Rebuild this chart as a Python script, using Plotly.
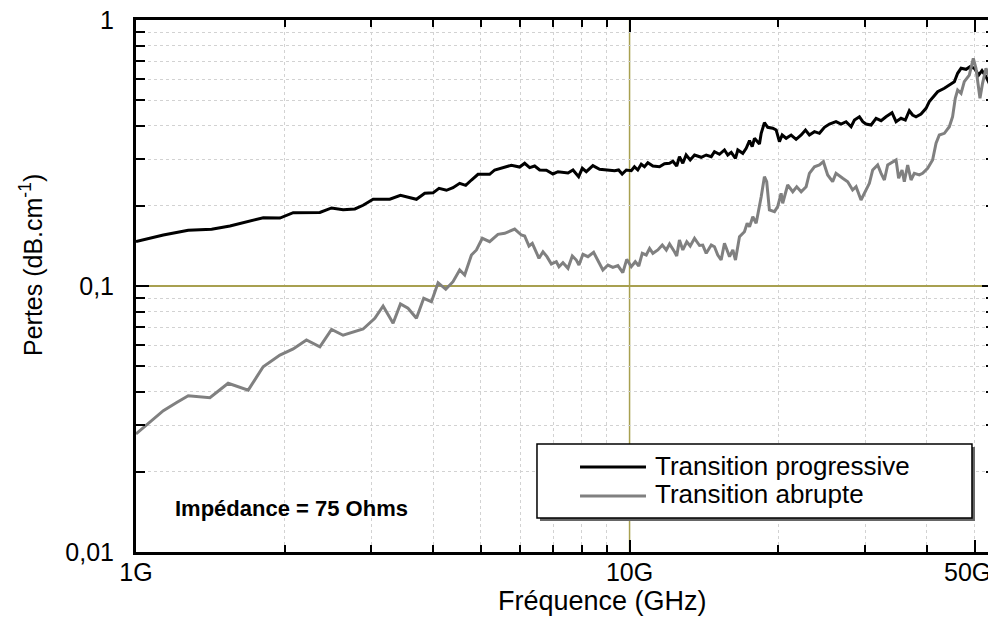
import plotly.graph_objects as go

# Transition progressive (black)
freq_prog = [
    1.00, 1.136, 1.276, 1.423, 1.550, 1.675, 1.810, 1.957, 2.082, 2.358,
    2.490, 2.628, 2.776, 2.885, 3.023, 3.267, 3.434, 3.700, 3.846, 3.998,
    4.111, 4.256, 4.388, 4.527, 4.656, 4.782, 4.931, 5.087, 5.206, 5.330,
    5.540, 5.761, 5.989, 6.130, 6.275, 6.423, 6.575, 6.784, 6.995, 7.161,
    7.503, 7.680, 7.885, 8.022, 8.172, 8.427, 8.696, 9.04, 9.325, 9.50,
    9.66, 9.85, 10.08, 10.23, 10.39, 10.56, 10.72, 10.89, 11.15, 11.50,
    11.77, 12.05, 12.24, 12.46, 12.62, 12.82, 13.02, 13.27, 13.54, 13.97,
    14.30, 14.64, 14.86, 15.21, 15.57, 15.81, 16.07, 16.39, 16.57, 16.96,
    17.23, 17.50, 17.72, 17.91, 18.33, 18.48, 18.76, 19.05, 19.50, 19.82,
    20.12, 20.38, 20.76, 21.25, 21.75, 22.27, 22.72, 23.14, 23.69, 24.25,
    24.82, 25.41, 26.20, 26.82, 27.46, 28.11, 28.55, 29.22, 29.68, 30.14,
    30.86, 31.58, 32.33, 33.08, 34.02, 34.67, 35.48, 36.20, 36.88, 37.45,
    38.05, 38.95, 39.87, 40.49, 41.44, 42.09, 43.43, 44.45, 45.50, 46.21,
    46.95, 48.05, 48.96, 49.95, 50.96, 51.76, 52.74, 53.55, 54.23, 54.38,
]
loss_prog = [
    0.147, 0.1555, 0.162, 0.1633, 0.168, 0.174, 0.1806, 0.180, 0.1887, 0.189,
    0.1965, 0.1936, 0.1948, 0.2011, 0.2118, 0.212, 0.2193, 0.2118, 0.2231, 0.224,
    0.2330, 0.229, 0.2342, 0.2432, 0.239, 0.2503, 0.2630, 0.2633, 0.263, 0.273,
    0.2785, 0.2843, 0.280, 0.2893, 0.2785, 0.2825, 0.273, 0.2723, 0.2637, 0.2690,
    0.266, 0.273, 0.2576, 0.277, 0.269, 0.2834, 0.2746, 0.273, 0.2714, 0.273,
    0.2637, 0.273, 0.2714, 0.2808, 0.273, 0.2868, 0.2808, 0.2908, 0.2825, 0.2808,
    0.2884, 0.2893, 0.2943, 0.2825, 0.3063, 0.2893, 0.3108, 0.2977, 0.3108, 0.3047,
    0.3108, 0.3063, 0.3198, 0.3127, 0.3246, 0.3108, 0.3182, 0.302, 0.3246, 0.3154,
    0.3295, 0.3518, 0.3341, 0.3592, 0.3419, 0.3750, 0.4111, 0.395, 0.3917, 0.3859,
    0.3488, 0.3695, 0.3592, 0.3695, 0.3560, 0.3695, 0.3859, 0.3695, 0.3803, 0.3750,
    0.395, 0.4064, 0.4147, 0.4064, 0.4147, 0.3971, 0.4207, 0.4329, 0.4147, 0.4064,
    0.4030, 0.4270, 0.4182, 0.4329, 0.4482, 0.4147, 0.4270, 0.4207, 0.4560, 0.4393,
    0.4329, 0.4431, 0.4656, 0.4932, 0.5224, 0.5376, 0.5536, 0.5697, 0.5861, 0.6305,
    0.6584, 0.6527, 0.6675, 0.6584, 0.621, 0.645, 0.6122, 0.578, 0.530, 0.257,
]

# Transition abrupte (grey)
freq_abr = [
    1.00, 1.067, 1.136, 1.209, 1.276, 1.412, 1.537, 1.688, 1.810, 1.957,
    2.082, 2.215, 2.358, 2.490, 2.628, 2.885, 3.047, 3.167, 3.318, 3.434,
    3.557, 3.700, 3.828, 3.968, 4.093, 4.242, 4.388, 4.527, 4.634, 4.782,
    4.895, 5.031, 5.206, 5.412, 5.585, 5.851, 6.036, 6.130, 6.255, 6.353,
    6.553, 6.677, 6.802, 6.943, 7.106, 7.194, 7.328, 7.503, 7.656, 7.80,
    7.897, 8.046, 8.235, 8.456, 8.627, 8.83, 9.04, 9.25, 9.47, 9.69,
    9.87, 10.08, 10.27, 10.44, 10.61, 10.81, 10.98, 11.15, 11.41, 11.65,
    11.87, 12.05, 12.33, 12.46, 12.62, 12.82, 13.06, 13.27, 13.54, 13.86,
    14.07, 14.30, 14.64, 14.86, 15.09, 15.33, 15.57, 15.94, 16.19, 16.39,
    16.70, 17.09, 17.31, 17.50, 17.77, 18.05, 18.48, 18.76, 18.96, 19.20,
    19.66, 19.96, 20.28, 20.43, 20.91, 21.41, 21.81, 22.27, 22.79, 23.14,
    23.69, 24.25, 24.70, 25.20, 25.79, 26.20, 27.03, 27.67, 28.31, 28.77,
    29.44, 30.14, 30.61, 31.09, 31.82, 32.33, 32.83, 33.34, 34.12, 34.67,
    35.09, 35.65, 36.03, 36.60, 37.18, 37.75, 38.64, 39.24, 40.17, 41.11,
    41.78, 42.42, 43.43, 44.45, 45.13, 45.70, 46.21, 46.95, 47.66, 48.79,
    49.71, 50.33, 51.28, 51.90, 52.74, 53.55, 54.23, 54.80,
]
loss_abr = [
    0.0278, 0.0309, 0.0340, 0.0365, 0.0387, 0.0380, 0.0431, 0.0406, 0.0497, 0.0550,
    0.0580, 0.0627, 0.0591, 0.0687, 0.0653, 0.0689, 0.0756, 0.0841, 0.0724, 0.0856,
    0.0825, 0.0756, 0.0899, 0.0873, 0.1029, 0.0972, 0.1038, 0.1149, 0.1100, 0.1308,
    0.1366, 0.1511, 0.1467, 0.1564, 0.1578, 0.1637, 0.1555, 0.1542, 0.1414, 0.1447,
    0.1271, 0.1345, 0.1289, 0.1210, 0.1234, 0.1182, 0.1224, 0.1165, 0.1297, 0.1252,
    0.1199, 0.1316, 0.1289, 0.1338, 0.1252, 0.1149, 0.1199, 0.1175, 0.1193, 0.1122,
    0.1260, 0.1182, 0.1234, 0.1189, 0.1327, 0.1308, 0.1385, 0.1327, 0.1366, 0.1425,
    0.1366, 0.1438, 0.1345, 0.1297, 0.1489, 0.1366, 0.1467, 0.1414, 0.1511, 0.142,
    0.1425, 0.1327, 0.1425, 0.1405, 0.1308, 0.1252, 0.1447, 0.1289, 0.1366, 0.1252,
    0.1532, 0.160, 0.1721, 0.1671, 0.1821, 0.1721, 0.2167, 0.2576, 0.2467, 0.1931,
    0.1903, 0.1987, 0.2231, 0.2047, 0.2397, 0.2262, 0.2362, 0.2262, 0.2362, 0.2653,
    0.2808, 0.2850, 0.2933, 0.2615, 0.2467, 0.2653, 0.2541, 0.2467, 0.2296, 0.2362,
    0.2105, 0.2296, 0.2432, 0.2730, 0.2850, 0.2653, 0.2503, 0.2850, 0.2933, 0.2977,
    0.2541, 0.2730, 0.2467, 0.2850, 0.2503, 0.2653, 0.2615, 0.2653, 0.277, 0.2977,
    0.3440, 0.3695, 0.3750, 0.3971, 0.4329, 0.5077, 0.5454, 0.530, 0.5861, 0.621,
    0.7178, 0.6584, 0.5077, 0.578, 0.6584, 0.6122, 0.6305, 0.578,
]

x_ticks = [1, 10, 50]
x_labels = ["1G", "10G", "50G\u00a0\u00a0"]
x_minor = [2, 3, 4, 5, 6, 7, 8, 9, 20, 30, 40, 50]
y_ticks = [0.01, 0.1, 1]
y_labels = ["0,01", "0,1", "1"]
y_minor = [0.02, 0.03, 0.04, 0.05, 0.06, 0.07, 0.08, 0.09,
           0.2, 0.3, 0.4, 0.5, 0.6, 0.7, 0.8, 0.9]

FONT = "Liberation Sans, Arial, sans-serif"
OLIVE = "#a8a050"
DOT = "#d2d2d2"

fig = go.Figure()
fig.add_trace(go.Scatter(x=freq_prog, y=loss_prog, mode="lines",
                         name="Transition progressive",
                         line=dict(color="black", width=3)))
fig.add_trace(go.Scatter(x=freq_abr, y=loss_abr, mode="lines",
                         name="Transition abrupte",
                         line=dict(color="#808080", width=3)))

axis_common = dict(
    type="log", showline=True, linecolor="black", linewidth=3, mirror="ticks",
    ticks="inside", tickcolor="black", tickwidth=2,
    tickfont=dict(family=FONT, size=25, color="black"),
    zeroline=False, automargin=False, ticklabeloverflow="allow",
)

fig.update_xaxes(
    **axis_common,
    range=[0, 1.7404],
    tickvals=x_ticks, ticktext=x_labels, ticklen=12,
    showgrid=False,
    ticklabelstandoff=-4,
    minor=dict(tickvals=x_minor, ticks="inside", ticklen=7, tickwidth=2,
               tickcolor="black", showgrid=True, gridcolor=DOT,
               griddash="dot", gridwidth=1),
)
fig.update_yaxes(
    **axis_common,
    range=[-2, 0],
    tickvals=y_ticks, ticktext=y_labels, ticklen=13,
    showgrid=True, gridcolor=OLIVE, gridwidth=1.5,
    ticklabelstandoff=14,
    minor=dict(tickvals=y_minor, ticks="inside", ticklen=9, tickwidth=2,
               tickcolor="black", showgrid=True, gridcolor=DOT,
               griddash="dot", gridwidth=1),
)

# vertical reference line at 10 GHz
fig.add_shape(type="line", xref="x", yref="paper", x0=10, x1=10, y0=0, y1=1,
              line=dict(color=OLIVE, width=1.5), layer="below")

# legend drawn by hand (shadow, box, sample lines)
fig.add_shape(type="rect", xref="paper", yref="paper",
              x0=0.4703, x1=0.9767, y0=0.0583, y1=0.1974,
              line=dict(width=0), fillcolor="#666666")
fig.add_shape(type="rect", xref="paper", yref="paper",
              x0=0.4668, x1=0.9732, y0=0.0639, y1=0.2030,
              line=dict(color="black", width=1.5), fillcolor="white")
fig.add_shape(type="line", xref="paper", yref="paper",
              x0=0.5169, x1=0.5937, y0=0.1598, y1=0.1598,
              line=dict(color="black", width=3))
fig.add_shape(type="line", xref="paper", yref="paper",
              x0=0.5169, x1=0.5937, y0=0.1053, y1=0.1053,
              line=dict(color="#808080", width=3))

annotations = [
    dict(text="Transition progressive", x=0.6019, y=0.1617,
         xanchor="left", yanchor="middle", font=dict(family=FONT, size=26)),
    dict(text="Transition abrupte", x=0.6019, y=0.1090,
         xanchor="left", yanchor="middle", font=dict(family=FONT, size=26)),
    dict(text="<b>Impédance = 75 Ohms</b>", x=0.1816, y=0.0827,
         xanchor="center", yanchor="middle", font=dict(family=FONT, size=22)),
    dict(text="Fréquence (GHz)", x=0.5425, y=-0.0930,
         xanchor="center", yanchor="middle", font=dict(family=FONT, size=27)),
    dict(text="Pertes (dB.cm<sup>-1</sup>)", x=-0.1222, y=0.5395,
         textangle=-90, xanchor="center", yanchor="middle",
         font=dict(family=FONT, size=25)),
]
for a in annotations:
    a.update(xref="paper", yref="paper", showarrow=False)
    a["font"]["color"] = "black"

# the page body adds an 8 px offset, so the figure is 8 px smaller
fig.update_layout(
    width=988, height=609,
    margin=dict(l=128, r=1, t=12, b=65),
    paper_bgcolor="white", plot_bgcolor="white",
    showlegend=False,
    annotations=annotations,
    font=dict(family=FONT, color="black"),
)

fig.write_html("out.html")
